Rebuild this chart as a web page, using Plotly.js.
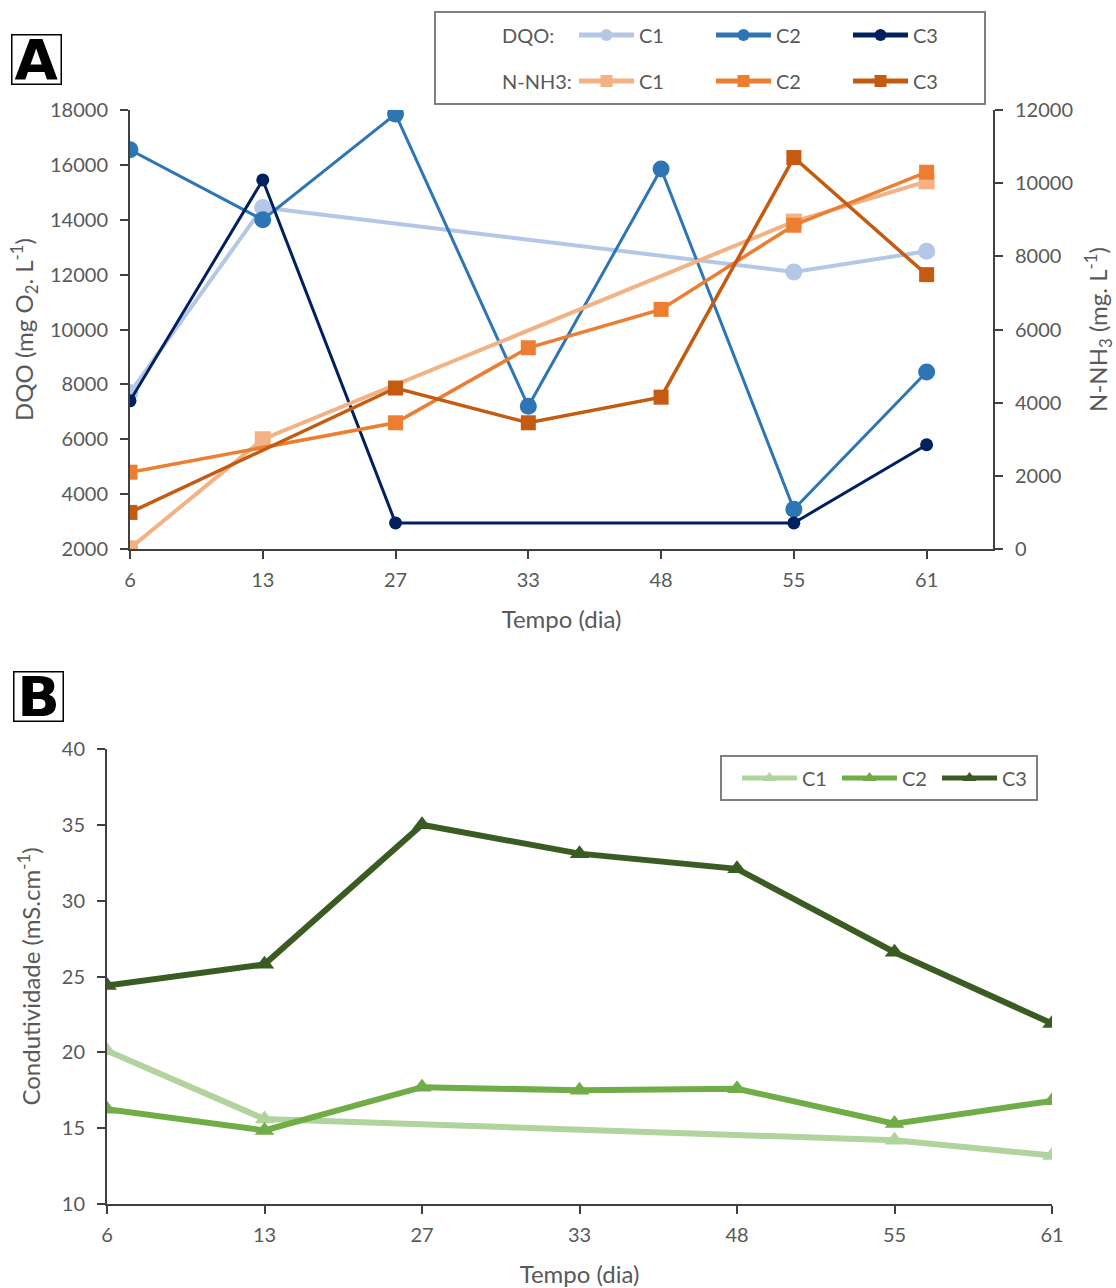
<!DOCTYPE html>
<html>
<head>
<meta charset="utf-8">
<script src="https://cdn.plot.ly/plotly-3.0.1.min.js"></script>
<style>html,body{margin:0;padding:0;background:#fff;}#chart{width:1116px;height:1288px;}</style>
</head>
<body>
<div id="chart"></div>
<script>
// ---- data ----
const days = ['6', '13', '27', '33', '48', '55', '61'];
const dqoC1 = [7700, 14450, null, null, null, 12100, 12850];
const dqoC2 = [16550, 14000, 17850, 7200, 15850, 3450, 8450];
const dqoC3 = [7400, 15450, 2950, null, null, 2950, 5800];
const nh3C1 = [20, 3000, null, null, null, 8950, 10050];
const nh3C2 = [2100, null, 3450, 5500, 6550, 8850, 10300];
const nh3C3 = [1000, null, 4400, 3450, 4150, 10700, 7500];
const condC1 = [20.1, 15.6, null, null, null, 14.2, 13.2];
const condC2 = [16.25, 14.85, 17.7, 17.5, 17.6, 15.3, 16.8];
const condC3 = [24.4, 25.8, 35.0, 33.1, 32.1, 26.6, 21.9];
const seriesNames = ['C1', 'C2', 'C3'];

// ---- helpers ----
const W = 1116, H = 1288;
const px = v => v / W;
const py = v => (H - v) / H;
const idx = days.map((d, i) => i);
const FONT = 'Lato, "Open Sans", sans-serif';
const GRAY = '#595959';
const AX = '#404040';

function tr(y, name, color, width, symbol, size, xaxis, yaxis, legend) {
  return {
    x: idx, y: y, name: name, type: 'scatter', mode: 'lines+markers',
    connectgaps: true, xaxis: xaxis, yaxis: yaxis, legend: legend,
    line: {color: color, width: width},
    marker: {color: color, symbol: symbol, size: size}
  };
}

const traces = [
  tr(dqoC1, seriesNames[0], '#B4C7E7', 4, 'circle', 17, 'x', 'y', 'legend'),
  tr(dqoC2, seriesNames[1], '#2E75B6', 3, 'circle', 17, 'x', 'y', 'legend'),
  tr(dqoC3, seriesNames[2], '#002060', 3, 'circle', 13, 'x', 'y', 'legend'),
  tr(nh3C1, seriesNames[0], '#F4B183', 4, 'square', 16, 'x', 'y2', 'legend2'),
  tr(nh3C2, seriesNames[1], '#ED7D31', 3.5, 'square', 15, 'x', 'y2', 'legend2'),
  tr(nh3C3, seriesNames[2], '#C55A11', 3.5, 'square', 15, 'x', 'y2', 'legend2'),
  tr(condC1, seriesNames[0], '#B1D39E', 6, 'triangle-up', 17, 'x2', 'y3', 'legend3'),
  tr(condC2, seriesNames[1], '#70AD47', 6, 'triangle-up', 17, 'x2', 'y3', 'legend3'),
  tr(condC3, seriesNames[2], '#3A5C22', 6, 'triangle-up', 17, 'x2', 'y3', 'legend3')
];

const tickFont = {family: FONT, size: 20, color: GRAY};
const titleFont = {family: FONT, size: 24, color: GRAY};

function xax(domain, range, anchor) {
  return {
    domain: domain, range: range, anchor: anchor,
    tickmode: 'array', tickvals: idx, ticktext: days,
    showgrid: false, zeroline: false, showline: true, linecolor: AX, linewidth: 2,
    ticks: 'outside', ticklen: 8, tickwidth: 2, tickcolor: AX,
    tickfont: tickFont, ticklabelstandoff: 4,
    title: {text: 'Tempo (dia)', font: titleFont, standoff: 21}
  };
}

function yax(extra) {
  return Object.assign({
    showgrid: false, zeroline: false, showline: true, linecolor: AX, linewidth: 2,
    ticks: 'outside', ticklen: 8, tickwidth: 2, tickcolor: AX,
    tickfont: tickFont, ticklabelstandoff: 8, tickformat: 'd'
  }, extra);
}

const legendBase = {
  orientation: 'h', bgcolor: 'rgba(0,0,0,0)', borderwidth: 0,
  font: {family: FONT, size: 20, color: GRAY},
  entrywidthmode: 'pixels', itemwidth: 55, itemsizing: 'constant',
  itemclick: false, itemdoubleclick: false,
  xanchor: 'left', yanchor: 'middle', tracegroupgap: 0
};

const layout = {
  width: W, height: H, autosize: false,
  margin: {l: 0, r: 0, t: 0, b: 0},
  paper_bgcolor: '#fff', plot_bgcolor: 'rgba(0,0,0,0)',
  font: {family: FONT, color: GRAY},
  xaxis: xax([px(130), px(993)], [0, 6.5], 'y'),
  yaxis: yax({
    domain: [py(549), py(110)], range: [2000, 18000], dtick: 2000, anchor: 'x',
    title: {text: 'DQO (mg O<sub>2</sub>. L<sup>-1</sup>)', font: titleFont, standoff: 10}
  }),
  yaxis2: yax({
    overlaying: 'y', side: 'right', range: [0, 12000], dtick: 2000, anchor: 'x',
    title: {text: 'N-NH<sub>3</sub> (mg. L<sup>-1</sup>)', font: titleFont, standoff: 18}
  }),
  xaxis2: xax([px(107), px(1052)], [0, 6], 'y3'),
  yaxis3: yax({
    domain: [py(1204), py(749)], range: [10, 40], dtick: 5, anchor: 'x2',
    title: {text: 'Condutividade (mS.cm<sup>-1</sup>)', font: titleFont, standoff: 14}
  }),
  legend: Object.assign({}, legendBase, {x: px(574), y: py(35), entrywidth: 67}),
  legend2: Object.assign({}, legendBase, {x: px(574), y: py(81), entrywidth: 67}),
  legend3: Object.assign({}, legendBase, {x: px(737), y: py(778), entrywidth: 30}),
  shapes: [
    {type: 'rect', xref: 'paper', yref: 'paper', x0: px(435), x1: px(985), y0: py(104), y1: py(12),
     line: {color: '#7F7F7F', width: 2}, fillcolor: 'rgba(0,0,0,0)'},
    {type: 'rect', xref: 'paper', yref: 'paper', x0: px(721), x1: px(1037), y0: py(800), y1: py(756),
     line: {color: '#7F7F7F', width: 2}, fillcolor: 'rgba(0,0,0,0)'}
  ],
  annotations: [
    {xref: 'paper', yref: 'paper', x: px(500), y: py(35), xanchor: 'left', yanchor: 'middle',
     text: 'DQO:', showarrow: false, font: {family: FONT, size: 20, color: GRAY}},
    {xref: 'paper', yref: 'paper', x: px(500), y: py(81), xanchor: 'left', yanchor: 'middle',
     text: 'N-NH3:', showarrow: false, font: {family: FONT, size: 20, color: GRAY}},
    {xref: 'paper', yref: 'paper', x: px(36), y: py(59), xanchor: 'center', yanchor: 'middle',
     text: '<b>A</b>', showarrow: false, width: 48, height: 48, borderpad: 0,
     bordercolor: '#000', borderwidth: 1.5, bgcolor: '#fff',
     font: {family: '"DejaVu Sans", sans-serif', size: 56, color: '#000'}},
    {xref: 'paper', yref: 'paper', x: px(38), y: py(696), xanchor: 'center', yanchor: 'middle',
     text: '<b>B</b>', showarrow: false, width: 48, height: 48, borderpad: 0,
     bordercolor: '#000', borderwidth: 1.5, bgcolor: '#fff',
     font: {family: '"DejaVu Sans", sans-serif', size: 56, color: '#000'}}
  ]
};

Plotly.newPlot('chart', traces, layout, {staticPlot: true, displayModeBar: false});
</script>
</body>
</html>
